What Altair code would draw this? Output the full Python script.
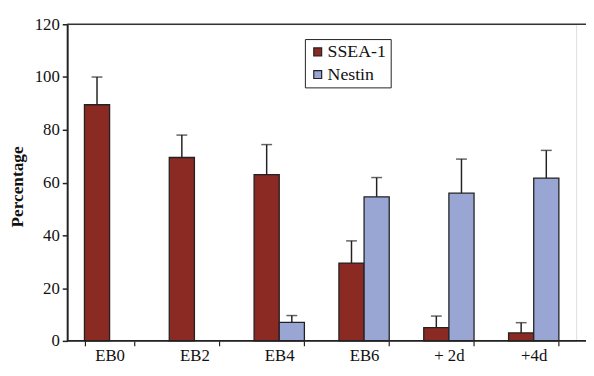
import altair as alt
import pandas as pd

categories = ["EB0", "EB2", "EB4", "EB6", "+ 2d", "+4d"]
series = ["SSEA-1", "Nestin"]
ssea = [89.5, 69.5, 63.0, 29.5, 5.0, 3.0]
ssea_err = [10.5, 8.5, 11.4, 8.4, 4.4, 3.9]
nestin = [None, None, 7.0, 54.6, 56.0, 61.7]
nestin_err = [None, None, 2.6, 7.3, 12.9, 10.5]
y_ticks = [0, 20, 40, 60, 80, 100, 120]

rows = []
for c, v, e in zip(categories, ssea, ssea_err):
    rows.append({"cat": c, "series": "SSEA-1", "value": v, "top": v + e})
for c, v, e in zip(categories, nestin, nestin_err):
    if v is not None:
        rows.append({"cat": c, "series": "Nestin", "value": v, "top": v + e})
df = pd.DataFrame(rows)

FONT = "Times New Roman, Liberation Serif, serif"
W, H = 516, 321

x = alt.X("cat:N", sort=categories, title=None,
          scale=alt.Scale(paddingInner=0.407, paddingOuter=0.2035),
          axis=alt.Axis(labelAngle=0, domain=False, tickBand="extent", tickSize=5,
                        tickColor="#222", tickWidth=1.2, labelFont=FONT, labelFontSize=17,
                        labelColor="#111", labelPadding=2, labelBaseline="top"))
xo = alt.XOffset("series:N", sort=series, scale=alt.Scale(domain=series))
y = alt.Y("value:Q", title="Percentage",
          scale=alt.Scale(domain=[0, 120], nice=False),
          axis=alt.Axis(values=y_ticks, grid=False, domainColor="#222", domainWidth=2,
                        tickColor="#222", tickSize=5, tickWidth=1.5, labelFont=FONT,
                        labelFontSize=17, labelColor="#111", labelPadding=3,
                        titleFont=FONT, titleFontSize=17.5, titleFontWeight="bold",
                        titleColor="#111", titleAngle=270, titleX=-50, titleY=H / 2 + 4,
                        titleBaseline="middle", titleAlign="center"))

base = alt.Chart(df)

bars = base.mark_bar(stroke="#222", strokeWidth=1.3).encode(
    x=x, xOffset=xo, y=y,
    color=alt.Color("series:N", sort=series,
                    scale=alt.Scale(domain=series, range=["#8B2923", "#99A5D3"]),
                    legend=alt.Legend(title=None, orient="none", legendX=241, legendY=15,
                                      strokeColor="#222", padding=4, symbolType="square",
                                      symbolSize=64, symbolStrokeColor="#222",
                                      symbolStrokeWidth=1.2, labelFont=FONT,
                                      labelFontSize=18, labelColor="#111",
                                      rowPadding=5, labelOffset=1)),
)

err = base.mark_rule(color="#222", strokeWidth=1.5).encode(
    x=alt.X("cat:N", sort=categories), xOffset=xo,
    y="value:Q", y2="top:Q",
)
caps = base.mark_tick(color="#222", thickness=1.5, size=11).encode(
    x=alt.X("cat:N", sort=categories), xOffset=xo, y="top:Q",
)

top_line = alt.Chart(pd.DataFrame({"k": [0]})).mark_rule(color="#333", strokeWidth=1.5).encode(
    x=alt.value(0), x2=alt.value(W + 10), y=alt.value(0))
bottom_line = alt.Chart(pd.DataFrame({"k": [0]})).mark_rule(color="#222", strokeWidth=2).encode(
    x=alt.value(0), x2=alt.value(W + 10), y=alt.value(H))

chart = alt.layer(bars, err, caps, top_line, bottom_line).properties(
    width=W, height=H,
    autosize=alt.AutoSizeParams(type="none"),
    padding={"left": 60, "top": 14, "right": 10, "bottom": 25},
).configure_view(stroke=None).configure(background="white", font=FONT)

chart.save("out.html", embed_options={"renderer": "svg", "actions": False})
